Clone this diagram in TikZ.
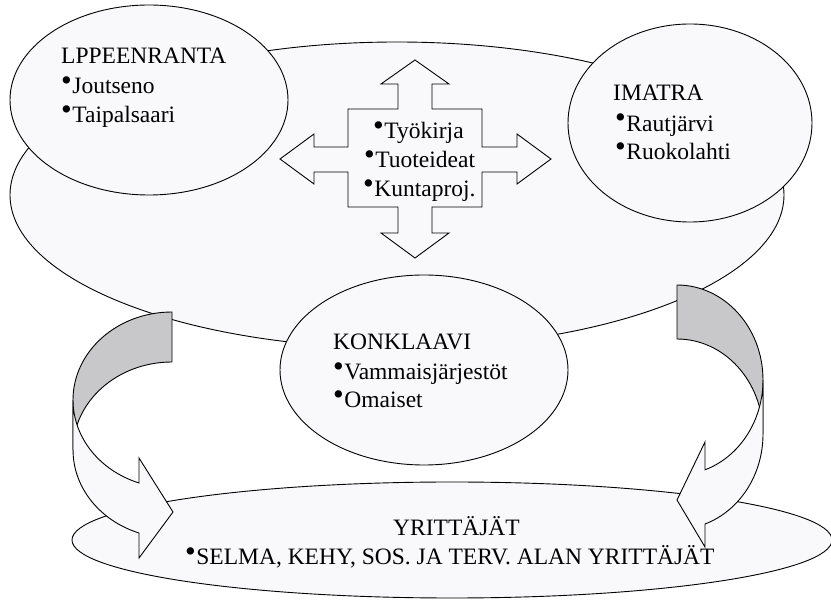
\documentclass[tikz,border=0pt]{standalone}
\usepackage{fontspec}
\setmainfont{Liberation Serif}

\definecolor{paper}{RGB}{249,249,251}
\definecolor{backgray}{RGB}{200,200,202}

\newcommand{\blt}{\raisebox{0.16em}{\scalebox{1.3}{\textbullet}}\kern0.5pt}

\tikzset{
  blob/.style={draw=black, line width=0.9pt, fill=paper},
  backside/.style={draw=black, line width=0.9pt, fill=backgray},
  txt/.style={anchor=base west, inner sep=0pt, text height=17pt, text depth=5pt,
    font=\fontsize{23.5}{28}\selectfont}
}

\begin{document}
\begin{tikzpicture}[x=1pt, y=-1pt]

    \useasboundingbox (0,0) rectangle (831,601);

    % big region
    \draw [blob] (397,195) ellipse [x radius=387, y radius=153];

    \draw [blob] (149,100) ellipse [x radius=139, y radius=95];
    \node (lpp) [txt] at (61,64) {LPPEENRANTA};
    \node (jou) [txt] at (61,94) {\blt Joutseno};
    \node (tai) [txt] at (61,123) {\blt Taipalsaari};

    \draw [blob] (690,123) ellipse [x radius=122, y radius=99];
    \node (ima) [txt] at (613,101) {IMATRA};
    \node (rau) [txt] at (615,131.5) {\blt Rautjärvi};
    \node (ruo) [txt] at (615,160) {\blt Ruokolahti};

    \draw [blob] (424,370) ellipse [x radius=144, y radius=95];
    \node (kon) [txt] at (333,350) {KONKLAAVI};
    \node (vam) [txt] at (333,380) {\blt Vammaisjärjestöt};
    \node (oma) [txt] at (333,408) {\blt Omaiset};

    % four-way arrow
    \draw [blob] (415,60) -- (449,84) -- (432,84) -- (432,109) -- (482,109) -- (482,147)
        -- (517,147) -- (517,134) -- (551,159) -- (517,184) -- (517,172) -- (482,172)
        -- (482,207) -- (432,207) -- (432,233) -- (449,233) -- (415,258) -- (381,233)
        -- (398,233) -- (398,207) -- (348,207) -- (348,172) -- (314,172) -- (314,184)
        -- (280,159) -- (314,134) -- (314,147) -- (348,147) -- (348,109) -- (398,109)
        -- (398,84) -- (381,84) -- cycle;
    \node (tyo) [txt] at (373,139) {\blt Työkirja};
    \node (tuo) [txt] at (364,168) {\blt Tuoteideat};
    \node (kun) [txt] at (363,197) {\blt Kuntaproj.};

    \draw [blob] (452,540) ellipse [x radius=380, y radius=58];
    \node (yri) [txt] at (393,536) {YRITTÄJÄT};
    \node (sel) [txt] at (185,565) {\blt SELMA, KEHY, SOS. JA TERV. ALAN YRITTÄJÄT};

    % left curved arrow
    \draw [backside] (172,312) arc [start angle=270, end angle=180, x radius=99, y radius=88]
        -- (73,450) arc [start angle=180, end angle=270, x radius=99, y radius=88] -- cycle;
    \draw [blob] (73,400) arc [start angle=180, end angle=109.5, x radius=99, y radius=88]
        -- (139,458) -- (173,512) -- (139,558) -- (139,533)
        arc [start angle=109.5, end angle=180, x radius=99, y radius=88] -- cycle;

    % right curved arrow
    \draw [backside] (677,285) arc [start angle=270, end angle=360, x radius=86, y radius=95]
        -- (763,434) arc [start angle=360, end angle=270, x radius=86, y radius=95] -- cycle;
    \draw [blob] (763,380) arc [start angle=0, end angle=71, x radius=86, y radius=95]
        -- (705,442) -- (677,500) -- (705,547) -- (705,524)
        arc [start angle=71, end angle=0, x radius=86, y radius=95] -- cycle;

\end{tikzpicture}
\end{document}
